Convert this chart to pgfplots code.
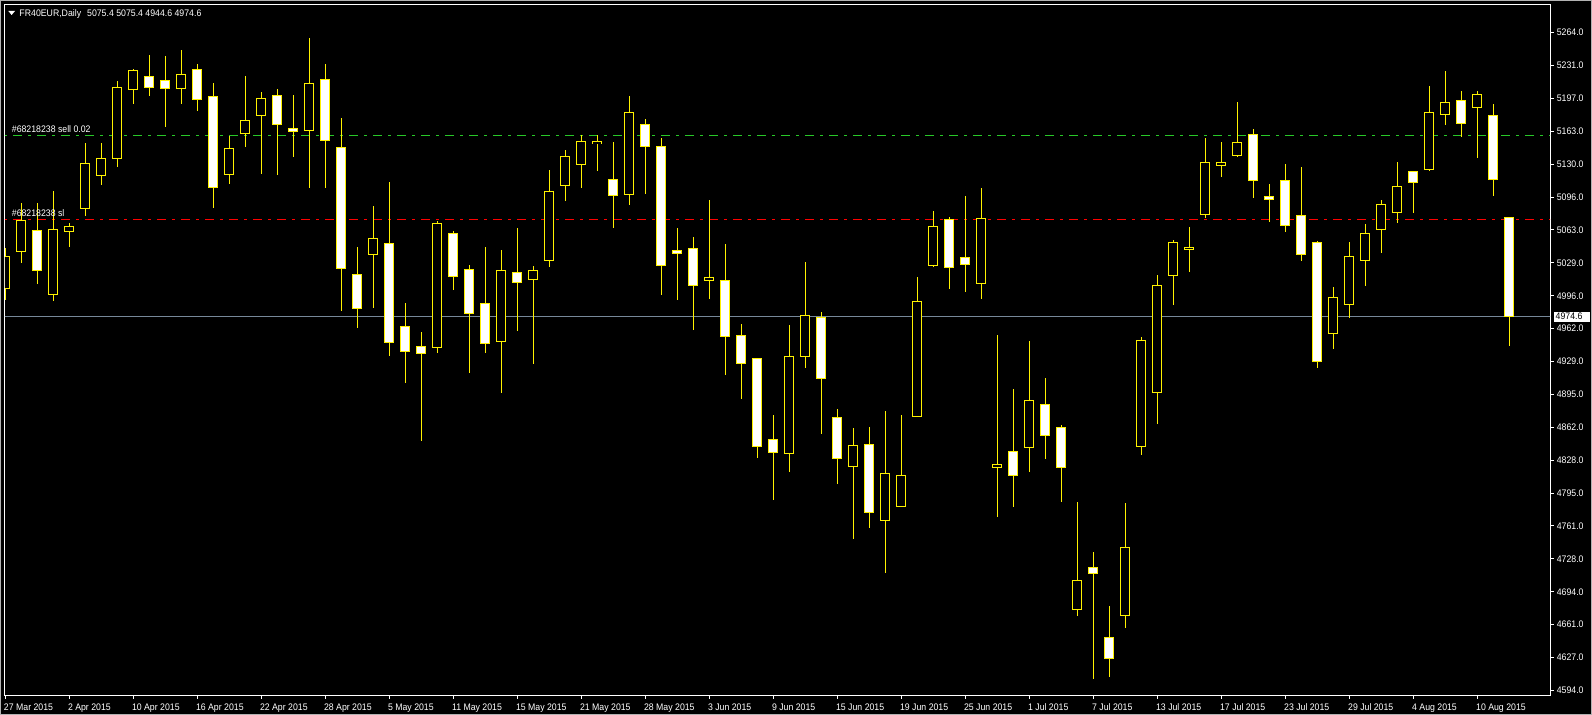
\documentclass[border=0pt]{standalone}
\usepackage{pgfplots}
\pgfplotsset{compat=1.18}
\usepackage{pgfplotstable}
\usepackage{fontspec}
\setmainfont{Liberation Sans}[FakeStretch=0.92]
\newcommand\mtfont{\fontsize{9.5bp}{11bp}\selectfont}
\definecolor{sellgreen}{RGB}{40,200,40}
\definecolor{bidgray}{RGB}{119,136,153}

% daily OHLC, bar index i (27 Mar 2015 = 0)
\pgfplotstableread{
i  o      h      l      c
0  5003.2 5044.6 4991.7 5035.7
1  5040.8 5090.1 5029.0 5072.8
3  4997.0 5102.7 4990.6 5063.7
4  5061.6 5070.4 5045.6 5066.7
5  5084.6 5151.3 5077.2 5130.9
6  5118.2 5151.3 5108.8 5136.0
7  5135.6 5215.0 5127.4 5208.3
8  5205.8 5226.6 5191.3 5225.6
11 5206.9 5246.3 5191.3 5221.5
14 5119.3 5159.0 5109.8 5146.2
15 5161.0 5219.5 5147.5 5174.7
16 5179.4 5203.5 5120.3 5197.1
19 5164.5 5258.5 5106.0 5212.4
23 5038.2 5087.4 4983.8 5054.5
27 4943.5 5072.1 4938.0 5069.8
31 4949.6 5042.6 4897.2 5021.9
33 5012.3 5026.3 4926.5 5021.9
34 5031.7 5124.1 5025.6 5102.4
35 5108.1 5144.4 5092.8 5138.0
36 5129.5 5159.7 5106.0 5153.3
37 5150.8 5159.7 5123.3 5152.6
39 5098.9 5199.4 5088.7 5182.8
44 5011.3 5093.5 4993.0 5014.8
49 4835.1 4966.2 4816.8 4934.3
50 4933.9 5030.4 4922.7 4976.1
53 4821.9 4861.3 4748.5 4843.7
55 4766.9 4878.6 4713.9 4815.1
56 4781.1 4874.5 4781.1 4813.1
57 4872.8 5015.1 4872.8 4990.3
58 5026.6 5082.3 5025.6 5066.7
61 5008.3 5105.7 4993.0 5074.9
62 4821.3 4956.0 4770.9 4824.3
64 4841.2 4949.9 4816.8 4889.5
67 4676.3 4785.7 4670.1 4706.1
70 4670.1 4784.9 4657.8 4739.7
71 4842.1 4953.9 4833.3 4950.4
72 4897.4 5017.2 4865.4 5006.4
73 5016.5 5052.8 4987.1 5050.5
74 5043.1 5065.9 5020.3 5045.4
75 5078.7 5156.8 5075.2 5131.6
76 5128.5 5152.5 5117.3 5131.6
77 5138.6 5193.5 5137.4 5152.2
83 4957.7 5004.9 4941.7 4994.4
84 4987.3 5050.7 4973.3 5036.2
85 5032.1 5069.1 5006.2 5059.6
86 5063.7 5093.5 5039.8 5089.1
87 5081.0 5132.2 5070.4 5107.5
89 5124.8 5209.6 5123.3 5182.8
90 5180.8 5224.9 5170.2 5193.0
92 5187.9 5204.5 5136.6 5201.2
}\bull

\pgfplotstableread{
i  o      h      l      c
2  5062.6 5090.1 5008.0 5021.5
9  5219.5 5241.2 5199.4 5207.9
10 5215.4 5240.2 5167.9 5206.9
12 5226.6 5232.0 5184.2 5195.7
13 5199.1 5212.7 5085.4 5106.0
17 5200.1 5206.6 5119.3 5170.6
18 5166.5 5200.4 5137.6 5163.5
20 5216.4 5232.0 5106.0 5154.3
21 5147.2 5177.0 4980.8 5023.9
22 5017.8 5045.6 4963.4 4983.2
24 5049.4 5111.8 4934.9 4948.6
25 4964.9 4988.6 4907.4 4939.4
26 4944.5 4959.1 4848.3 4937.4
28 5059.6 5061.9 5002.1 5015.8
29 5022.9 5027.3 4917.6 4978.1
30 4988.3 5045.6 4938.0 4947.6
32 5019.9 5065.0 4960.4 5009.7
38 5114.6 5152.6 5065.3 5097.9
40 5170.6 5176.0 5099.9 5147.8
41 5148.2 5156.6 4997.0 5026.6
42 5042.3 5065.0 4992.0 5038.8
43 5044.3 5055.8 4961.4 5006.2
45 5011.7 5048.7 4915.6 4954.3
46 4955.7 4967.2 4891.1 4926.8
47 4932.3 4932.3 4831.0 4842.2
48 4849.8 4874.5 4788.3 4836.1
51 4974.0 4979.1 4855.5 4911.5
52 4872.2 4880.6 4804.6 4830.0
54 4844.7 4862.3 4759.7 4775.0
59 5073.8 5075.9 5003.2 5024.6
60 5035.1 5097.6 5000.1 5027.6
63 4837.6 4901.0 4781.1 4813.1
65 4885.4 4912.2 4830.0 4853.4
66 4861.9 4864.1 4785.7 4820.9
68 4719.2 4735.1 4605.9 4713.0
69 4648.1 4679.8 4607.9 4626.4
78 5160.2 5165.6 5095.7 5113.1
79 5097.3 5109.6 5071.0 5094.1
80 5113.5 5130.1 5060.9 5067.4
81 5077.9 5127.0 5031.6 5037.7
82 5050.5 5051.6 4922.5 4928.7
88 5122.7 5122.7 5080.6 5111.5
91 5195.0 5204.5 5158.0 5171.6
93 5179.8 5191.3 5097.9 5114.6
94 5075.4 5075.4 4944.6 4974.6
}\bear

\pgfplotsset{
  candle/.style={draw=none, mark=none, forget plot,
    error bars/.cd, y dir=both, y explicit, error mark=none,
    error bar style={line cap=butt, #1}},
}

\begin{document}
\begin{tikzpicture}[x=1bp,y=-1bp]
\fill[black] (0,0) rectangle (1592,715);
\begin{axis}[
  at={(5bp,-695.3bp)}, anchor=south west,
  scale only axis, width=1545bp, height=690.6bp,
  xmin=-0.01875, xmax=96.544, ymin=4589.04, ymax=5292.41,
  axis line style={white, line width=1bp},
  tick align=outside, major tick length=3.5bp,
  tick style={white, line width=1bp},
  xtick pos=left, ytick pos=right, yticklabel pos=right,
  xtick={0,4,...,92},
  xticklabels={27 Mar 2015, 2 Apr 2015, 10 Apr 2015, 16 Apr 2015, 22 Apr 2015,
    28 Apr 2015, 5 May 2015, 11 May 2015, 15 May 2015, 21 May 2015, 28 May 2015,
    3 Jun 2015, 9 Jun 2015, 15 Jun 2015, 19 Jun 2015, 25 Jun 2015, 1 Jul 2015,
    7 Jul 2015, 13 Jul 2015, 17 Jul 2015, 23 Jul 2015, 29 Jul 2015, 4 Aug 2015,
    10 Aug 2015},
  ytick={5264,5230.5,5197,5163.5,5130,5096.5,5063,5029.5,4996,4962.5,4929,
    4895.5,4862,4828.5,4795,4761.5,4728,4694.5,4661,4627.5,4594},
  yticklabels={5264.0,5231.0,5197.0,5163.0,5130.0,5096.0,5063.0,5029.0,4996.0,
    4962.0,4929.0,4895.0,4862.0,4828.0,4795.0,4761.0,4728.0,4694.0,4661.0,
    4627.0,4594.0},
  tick label style={font=\mtfont, text=white},
  xticklabel style={anchor=north west, inner sep=0pt, xshift=-1.5bp, yshift=-5bp},
  yticklabel style={anchor=west, inner sep=0pt, xshift=3bp},
]
% order levels and bid line, behind the candles
\addplot[forget plot, sellgreen, line width=1bp,
  dash pattern=on 9bp off 6bp on 3bp off 6bp] coordinates {(-1,5159.4) (98,5159.4)};
\addplot[forget plot, red, line width=1bp,
  dash pattern=on 9bp off 6bp on 3bp off 6bp] coordinates {(-1,5073.8) (98,5073.8)};
\addplot[forget plot, bidgray, line width=1bp] coordinates {(-1,4974.6) (98,4974.6)};

% bull candles: hollow
\addplot[candle={draw=yellow, line width=1bp}] table[x=i,
  y expr={(\thisrow{h}+\thisrow{l})/2}, y error expr={(\thisrow{h}-\thisrow{l})/2}] {\bull};
\addplot[candle={draw=yellow, line width=10bp}] table[x=i,
  y expr={(\thisrow{o}+\thisrow{c})/2}, y error expr={abs(\thisrow{c}-\thisrow{o})/2+0.51}] {\bull};
\addplot[candle={draw=black, line width=8bp}] table[x=i,
  y expr={(\thisrow{o}+\thisrow{c})/2}, y error expr={max(abs(\thisrow{c}-\thisrow{o})/2-0.51,0)}] {\bull};

% bear candles: white body
\addplot[candle={draw=yellow, line width=1bp}] table[x=i,
  y expr={(\thisrow{h}+\thisrow{l})/2}, y error expr={(\thisrow{h}-\thisrow{l})/2}] {\bear};
\addplot[candle={draw=yellow, line width=10bp}] table[x=i,
  y expr={(\thisrow{o}+\thisrow{c})/2}, y error expr={abs(\thisrow{c}-\thisrow{o})/2+0.51}] {\bear};
\addplot[candle={draw=white, line width=8bp}] table[x=i,
  y expr={(\thisrow{o}+\thisrow{c})/2}, y error expr={max(abs(\thisrow{c}-\thisrow{o})/2-0.51,0)}] {\bear};
\end{axis}

\draw[gray!60, line width=1bp] (0.5,0.5) rectangle (1591.5,714.5);
\fill[white] (8.3,11) -- (15,11) -- (11.65,15) -- cycle;
\node[anchor=base west, inner sep=0pt, text=white, font=\mtfont] at (19.3,16.3)
  {FR40EUR,Daily\hspace{6bp}5075.4 5075.4 4944.6 4974.6};
\node[anchor=base west, inner sep=0pt, text=white, font=\mtfont] at (11.7,133)
  {\#68218238 sell 0.02};
\node[anchor=base west, inner sep=0pt, text=white, font=\mtfont] at (11.7,216.5)
  {\#68218238 sl};
\fill[white] (1553.5,311.5) rectangle (1590,322);
\node[anchor=west, inner sep=0pt, text=black, font=\mtfont] at (1555.5,316.7) {4974.6};
\pgfresetboundingbox
\useasboundingbox (0,0) rectangle (1592,715);
\end{tikzpicture}
\end{document}
